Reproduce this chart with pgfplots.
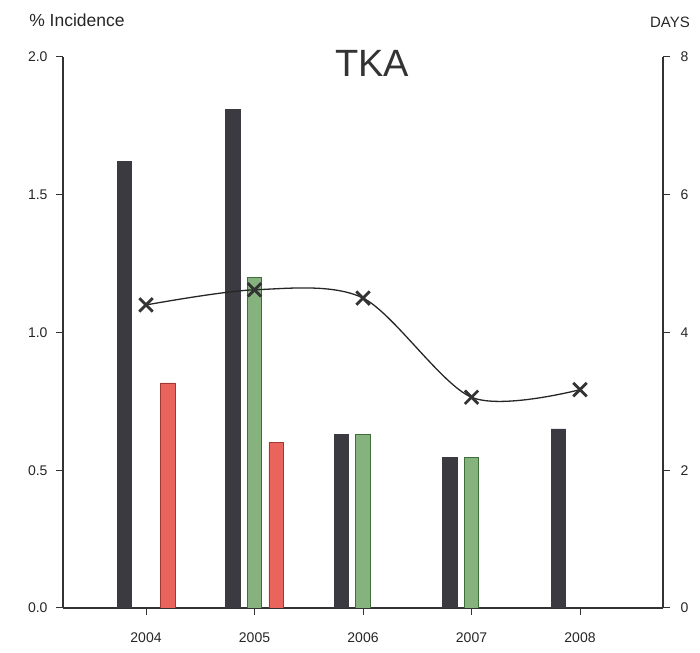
\documentclass[border=0pt]{standalone}
\usepackage{pgfplots}
\pgfplotsset{compat=1.18}
\usepackage{fontspec}
\setmainfont{Liberation Sans}
\definecolor{darkbar}{HTML}{3A3A40}
\definecolor{greenfill}{HTML}{86B27E}
\definecolor{greenline}{HTML}{3E6E3A}
\definecolor{redfill}{HTML}{E8645C}
\definecolor{redline}{HTML}{A03A34}
\begin{document}
\begin{tikzpicture}[x=1bp,y=1bp]
\useasboundingbox (0,0) rectangle (700,653);
\pgfplotsset{every axis/.append style={
  scale only axis, width=600bp, height=551bp,
  xmin=2003.235, xmax=2008.765,
  at={(63bp,45bp)}, anchor=south west,
  tick label style={font=\fontsize{14bp}{16bp}\selectfont, color=black!85},
  /pgf/number format/assume math mode=true,
  tick align=outside, major tick length=7bp,
  tick style={line width=1bp, black!80},
  axis line style={line width=1.2bp, black!80},
}}
\begin{axis}[
  axis x line*=bottom, axis y line*=left,
  ymin=0, ymax=2,
  ytick={0,0.5,1,1.5,2},
  yticklabel style={/pgf/number format/.cd, fixed, fixed zerofill, precision=1, /tikz/xshift=-5bp},
  xtick={2004,2005,2006,2007,2008},
  xticklabel style={/pgf/number format/1000 sep={}, yshift=-14bp},
]
\addplot[ybar, bar width=0.134, bar shift=-0.2, fill=darkbar, draw=darkbar]
  coordinates {(2004,1.62) (2005,1.81) (2006,0.63) (2007,0.548) (2008,0.65)};
\addplot[ybar, bar width=0.134, bar shift=0, fill=greenfill, draw=greenline, line width=0.8bp]
  coordinates {(2005,1.20) (2006,0.63) (2007,0.548)};
\addplot[ybar, bar width=0.134, bar shift=0.2, fill=redfill, draw=redline, line width=0.8bp]
  coordinates {(2004,0.817) (2005,0.60)};
\end{axis}
\begin{axis}[
  axis x line=none, axis y line*=right,
  ymin=0, ymax=8,
  ytick={0,2,4,6,8},
  yticklabel style={xshift=7bp},
]
\addplot[smooth, line width=1.3bp, black!85, mark=x, mark size=9.5bp,
  mark options={line width=2.8bp, black!80}]
  coordinates {(2004,4.40) (2005,4.62) (2006,4.50) (2007,3.06) (2008,3.17)};
\end{axis}
\node[font=\fontsize{17.5bp}{19bp}\selectfont, color=black!85] at (77,633) {\% Incidence};
\node[font=\fontsize{15bp}{17bp}\selectfont, color=black!85] at (670,631) {DAYS};
\node[font=\fontsize{38bp}{40bp}\selectfont, color=black!80] at (372,590) {TKA};
\end{tikzpicture}
\end{document}
